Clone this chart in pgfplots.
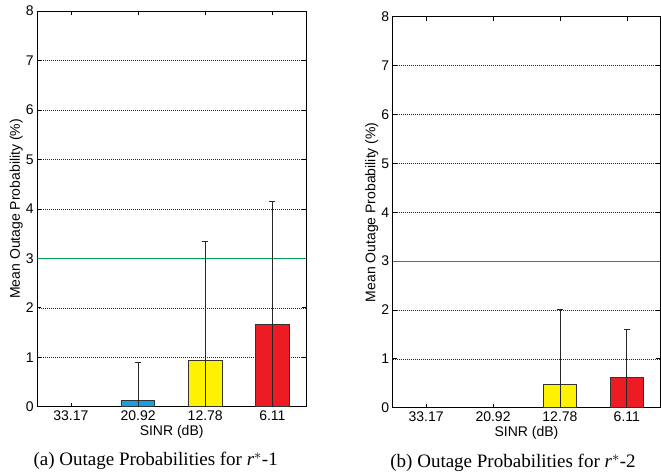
\documentclass[border=0pt]{standalone}
\usepackage{fontspec}
\setmainfont{Liberation Sans}
\newfontfamily\serifcap{Liberation Serif}
\usepackage{pgfplots}
\pgfplotsset{compat=1.18}
\definecolor{barblue}{RGB}{20,160,225}
\definecolor{baryellow}{RGB}{255,242,0}
\definecolor{barred}{RGB}{237,28,36}
\definecolor{limgreen}{RGB}{0,160,80}
\pgfplotsset{
  myax/.style={
    scale only axis,
    anchor=south west,
    xmin=0.5, xmax=4.5, ymin=0, ymax=8,
    xtick={1,2,3,4},
    xticklabels={33.17,20.92,12.78,6.11},
    ytick={0,1,...,8},
    tick pos=both, tick align=inside,
    major tick length=4pt,
    ymajorgrids, grid style={dash pattern=on 0.8pt off 1.2pt, black!85, line width=0.5pt},
    axis line style={black, line width=0.9pt},
    every tick/.style={black, line width=0.7pt},
    /pgf/number format/assume math mode=true,
    ticklabel style={font=\fontsize{14}{16}\selectfont},
    label style={font=\fontsize{14}{16}\selectfont},
    xlabel={SINR (dB)},
    ylabel={Mean Outage Probability (\%)},
    xlabel style={at={(axis description cs:0.5,0)}, anchor=center, yshift=-25pt},
    ylabel style={at={(axis description cs:-0.078,0.5)}, anchor=center},
    clip=true,
  },
  mybar/.style={ybar, bar width=0.5, bar shift=0pt, draw=black!80, line width=0.8pt},
  myerr/.style={error bars/.cd, y dir=both, y explicit,
    error bar style={black!85, line width=0.9pt},
    error mark options={rotate=90, mark size=3pt, black!85, line width=0.9pt}},
}
\begin{document}
\begin{tikzpicture}
\useasboundingbox (0pt,0pt) rectangle (661pt,475pt);
\begin{axis}[myax, at={(37.3pt,68.3pt)}, width=268.7pt, height=395.7pt]
\addplot[limgreen, line width=0.9pt, no markers] coordinates {(0.5,3) (4.5,3)};
\addplot[mybar, fill=barblue] coordinates {(2,0.13)};
\addplot[mybar, fill=baryellow] coordinates {(3,0.94)};
\addplot[mybar, fill=barred] coordinates {(4,1.66)};
\addplot[draw=none, mark=none, myerr] coordinates {(2,0.13) +- (0,0.76) (3,0.94) +- (0,2.40) (4,1.66) +- (0,2.48)};
\end{axis}
\begin{axis}[myax, at={(392.7pt,67.3pt)}, width=267.6pt, height=391pt]
\addplot[limgreen, line width=0.9pt, no markers] coordinates {(0.5,3) (4.5,3)};
\addplot[mybar, fill=baryellow] coordinates {(3,0.485)};
\addplot[mybar, fill=barred] coordinates {(4,0.63)};
\addplot[draw=none, mark=none, myerr] coordinates {(3,0.485) +- (0,1.535) (4,0.63) +- (0,0.97)};
\end{axis}
\node[font=\serifcap\fontsize{19}{21}\selectfont, anchor=center] at (155.7pt,14.3pt) {(a) Outage Probabilities for \textit{r}$^{*}$-1};
\node[font=\serifcap\fontsize{19}{21}\selectfont, anchor=center] at (513pt,12.3pt) {(b) Outage Probabilities for \textit{r}$^{*}$-2};
\end{tikzpicture}
\end{document}
